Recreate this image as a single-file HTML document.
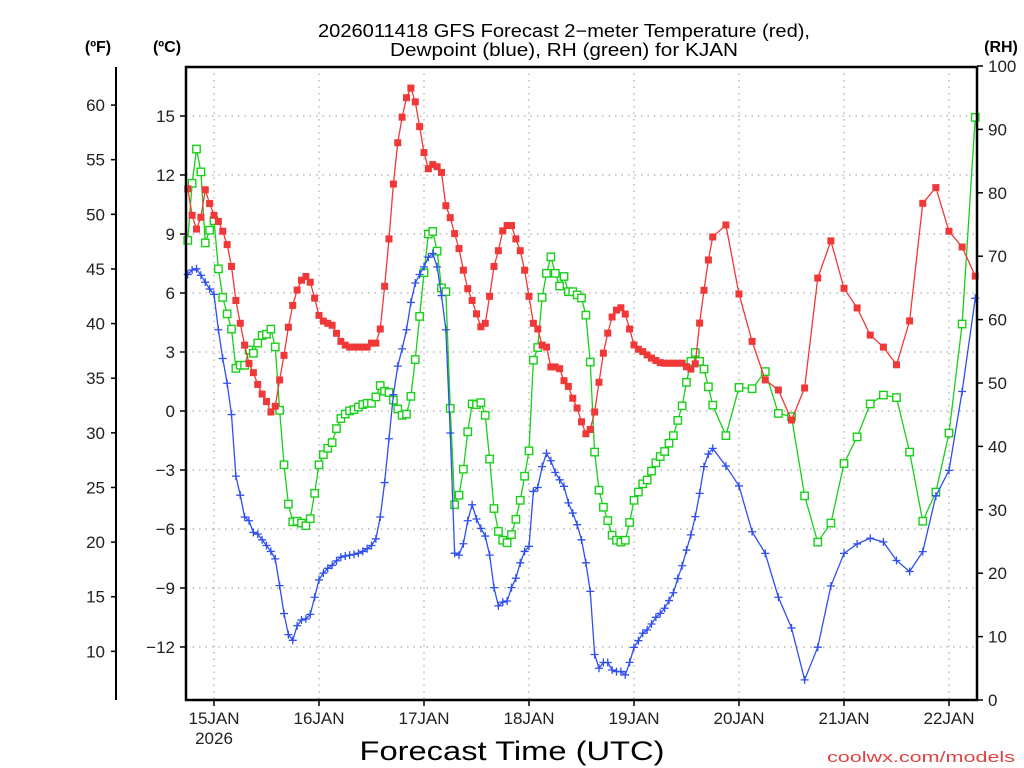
<!DOCTYPE html>
<html><head><meta charset="utf-8"><title>GFS Forecast KJAN</title>
<style>
html,body{margin:0;padding:0;background:#fff;}
svg{display:block;font-family:"Liberation Sans",sans-serif;}
</style></head>
<body>
<svg id="chart" width="1024" height="768" viewBox="0 0 1024 768" xmlns="http://www.w3.org/2000/svg">
  <rect x="0" y="0" width="1024" height="768" fill="#fff"/>
  <g id="grid"></g>
  <g id="series"></g>
  <rect x="186" y="67" width="791" height="633" fill="none" stroke="#000" stroke-width="2.5"/>
  <line x1="116" y1="67" x2="116" y2="700" stroke="#000" stroke-width="2"/>
  <g id="axes" font-size="17" fill="#222"></g>
  <text x="564" y="37" text-anchor="middle" font-size="18" textLength="492" lengthAdjust="spacingAndGlyphs">2026011418 GFS Forecast 2−meter Temperature (red),</text>
  <text x="564" y="56" text-anchor="middle" font-size="18" textLength="348" lengthAdjust="spacingAndGlyphs">Dewpoint (blue), RH (green) for KJAN</text>
  <text x="98" y="52" text-anchor="middle" font-size="16" font-weight="bold">(ºF)</text>
  <text x="167" y="52" text-anchor="middle" font-size="16" font-weight="bold">(ºC)</text>
  <text x="1001" y="52" text-anchor="middle" font-size="16" font-weight="bold">(RH)</text>
  <text x="512" y="760" text-anchor="middle" font-size="27" textLength="305" lengthAdjust="spacingAndGlyphs">Forecast Time (UTC)</text>
  <text x="1015" y="762" text-anchor="end" font-size="15" fill="#e04040" textLength="188" lengthAdjust="spacingAndGlyphs">coolwx.com/models</text>
</svg>
<script>
// forecast hours: hourly 0..120, then every 3 h to 180
const hours = [];
for (let h = 0; h <= 120; h++) hours.push(h);
for (let h = 123; h <= 180; h += 3) hours.push(h);

const tempC = [11.3,9.95,9.25,9.85,11.25,10.55,9.95,9.64,9.14,8.46,7.35,5.62,4.46,3.35,2.42,1.95,1.35,0.86,0.48,-0.05,
0.24,1.58,2.83,4.26,5.37,6.15,6.65,6.84,6.55,5.74,4.86,4.57,4.46,4.36,3.95,3.54,3.35,3.25,3.25,3.25,
3.25,3.25,3.45,3.45,4.17,6.34,8.75,11.54,13.64,14.94,15.93,16.42,15.72,14.46,13.14,12.32,12.53,12.42,12.13,10.44,
9.83,9.02,8.26,7.16,6.22,5.62,4.94,4.28,4.46,5.83,7.35,8.15,9.16,9.43,9.43,8.75,8.15,7.16,5.83,4.46,
4.17,3.35,3.25,2.24,2.24,2.15,1.54,1.25,0.65,0.15,-0.55,-1.16,-0.94,-0.05,1.46,2.94,3.96,4.78,5.13,5.25,
4.93,4.17,3.36,3.14,3.02,2.85,2.69,2.57,2.46,2.43,2.43,2.43,2.43,2.43,2.25,2.13,2.4,4.47,6.14,7.68,
8.85,
9.46,5.95,3.54,1.58,1.07,-0.46,1.17,6.76,8.65,6.24,5.24,3.86,3.25,2.35,4.58,10.56,11.36,9.14,8.34,6.86];

const dewC = [6.94,7.17,7.23,6.9,6.55,6.2,5.93,4.13,2.67,1.41,-0.18,-3.31,-4.28,-5.39,-5.58,-6.17,-6.26,-6.55,-6.84,-7.14,
-7.52,-8.88,-10.3,-11.37,-11.66,-10.92,-10.63,-10.57,-10.34,-9.47,-8.59,-8.24,-8.0,-7.85,-7.62,-7.43,-7.37,-7.33,-7.29,-7.23,
-7.14,-7.0,-6.84,-6.5,-5.39,-3.64,-1.41,0.83,2.28,3.16,4.13,5.52,6.51,6.94,7.33,7.82,8.01,7.33,5.87,4.13,
-1.12,-7.23,-7.33,-6.75,-5.58,-4.77,-5.49,-5.97,-6.36,-7.33,-8.98,-9.91,-9.72,-9.66,-8.98,-8.5,-7.72,-7.14,-6.88,-4.09,
-3.89,-2.83,-2.15,-2.53,-3.12,-3.5,-3.83,-4.67,-5.19,-5.78,-6.55,-7.72,-9.17,-12.38,-13.08,-12.79,-12.79,-13.17,-13.25,-13.25,
-13.42,-12.78,-12.02,-11.68,-11.3,-11.13,-10.83,-10.49,-10.29,-10.03,-9.64,-9.24,-8.52,-7.87,-7.07,-6.3,-5.37,-4.19,-2.83,-2.19,
-1.9,
-2.8,-3.81,-6.14,-7.24,-9.47,-11.03,-13.67,-12.01,-8.9,-7.24,-6.76,-6.47,-6.66,-7.6,-8.16,-7.15,-4.32,-3.02,0.99,5.73];

const rhPct = [72.5,81.5,86.9,83.3,72.1,74.1,75.6,68.0,63.5,60.9,58.5,52.3,52.8,52.8,55.2,54.7,56.3,57.5,57.7,58.5,
55.7,45.7,37.1,30.9,28.1,28.2,27.9,27.5,28.6,32.6,37.1,38.7,39.7,40.6,42.8,44.4,45.1,45.6,45.8,46.2,
46.6,46.8,46.8,47.8,49.6,48.7,48.5,47.3,45.9,44.9,45.1,47.9,53.7,60.5,67.4,73.5,73.9,70.8,65.0,64.4,
46.0,30.8,32.3,36.4,42.3,46.7,46.6,46.9,44.9,38.0,30.2,26.6,25.2,24.8,26.1,28.5,31.5,35.3,39.3,53.6,
55.6,63.5,67.3,69.9,67.3,65.3,66.8,64.4,64.4,63.9,63.4,60.7,53.3,39.1,33.1,30.4,28.3,26.0,25.2,24.9,
25.2,28.0,31.5,32.8,34.1,34.7,36.1,37.4,38.4,39.2,40.5,41.7,44.1,46.4,50.1,53.4,54.8,53.4,52.2,49.4,
46.5,
41.7,49.3,49.1,51.8,45.2,44.7,32.2,24.9,27.9,37.3,41.5,46.7,48.1,47.7,39.1,28.2,32.8,42.1,59.3,91.9];

const fTicks = [60,55,50,45,40,35,30,25,20,15,10];
const cTicks = [15,12,9,6,3,0,-3,-6,-9,-12];
const rhTicks = [100,90,80,70,60,50,40,30,20,10,0];
const dayLabels = ["15JAN","16JAN","17JAN","18JAN","19JAN","20JAN","21JAN","22JAN"];
const dayHours = [6,30,54,78,102,126,150,174];

// axis functions
const PX_PER_HOUR = 105/24;
function xOf(h){ return 187.75 + h*PX_PER_HOUR; }
function yC(c){ return 411 - c*(59/3); }
function yF(f){ return yC((f-32)*5/9); }
function yRH(r){ return 700 - r*6.34; }

const NS = "http://www.w3.org/2000/svg";
function mk(tag, attrs, parent){
  const e = document.createElementNS(NS, tag);
  for (const k in attrs) e.setAttribute(k, attrs[k]);
  parent.appendChild(e);
  return e;
}
const grid = document.getElementById('grid');
const axes = document.getElementById('axes');
const series = document.getElementById('series');

// horizontal grid + C ticks
cTicks.forEach(c => {
  const y = yC(c);
  const g = mk('line', {x1:186, x2:977, y1:y, y2:y, stroke:'#aaa', 'stroke-width':1.2, 'stroke-dasharray':'1.5 5'}, grid);
  
  
  const t = mk('line', {x1:180, x2:186, y1:y, y2:y, stroke:'#000', 'stroke-width':1.5}, axes);
  
  
  const l = mk('text', {x:175, y:y+6, 'text-anchor':'end'}, axes);
  l.textContent = c < 0 ? '−' + Math.abs(c) : String(c);
  
  
});
// F ticks
fTicks.forEach(f => {
  const y = yF(f);
  const t = mk('line', {x1:111, x2:116, y1:y, y2:y, stroke:'#000', 'stroke-width':1.5}, axes);
  
  
  const l = mk('text', {x:105, y:y+6, 'text-anchor':'end'}, axes);
  l.textContent = String(f);
  
  
});
// RH ticks
rhTicks.forEach(r => {
  const y = yRH(r);
  const t = mk('line', {x1:977, x2:983, y1:y, y2:y, stroke:'#000', 'stroke-width':1.5}, axes);
  
  
  const l = mk('text', {x:988, y:y+6, 'text-anchor':'start'}, axes);
  l.textContent = String(r);
  
  
});
// day grid + labels
dayHours.forEach((h, i) => {
  const x = xOf(h);
  const g = mk('line', {x1:x, x2:x, y1:67, y2:700, stroke:'#aaa', 'stroke-width':1.2, 'stroke-dasharray':'1.5 5'}, grid);
  
  
  const t = mk('line', {x1:x, x2:x, y1:700, y2:706, stroke:'#000', 'stroke-width':1.5}, axes);
  
  
  const l = mk('text', {x:x, y:724, 'text-anchor':'middle'}, axes);
  l.textContent = dayLabels[i];
  
  
});
const yr = mk('text', {x:xOf(dayHours[0]), y:744, 'text-anchor':'middle'}, axes);
yr.textContent = '2026';



function drawSeries(vals, yfn, color, kind, name){
  const g = mk('g', {}, series);
  
  
  const pts = vals.map((v, i) => xOf(hours[i]).toFixed(2) + ',' + yfn(v).toFixed(2)).join(' ');
  const pl = mk('polyline', {points:pts, fill:'none', stroke:color, 'stroke-width':1.3}, g);
  
  
  vals.forEach((v, i) => {
    const x = xOf(hours[i]), y = yfn(v);
    let m;
    if (kind === 'fill') {
      m = mk('rect', {x:x-3.5, y:y-3.5, width:7, height:7, fill:color}, g);
    } else if (kind === 'open') {
      m = mk('rect', {x:x-3.7, y:y-3.7, width:7.4, height:7.4, fill:'#fff', stroke:color, 'stroke-width':1.4}, g);
    } else {
      m = mk('path', {d:'M'+(x-4)+' '+y+'H'+(x+4)+'M'+x+' '+(y-4)+'V'+(y+4), stroke:color, 'stroke-width':1.3, fill:'none'}, g);
    }
    
    
  });
}
drawSeries(rhPct, yRH, '#18d018', 'open', 'rh');
drawSeries(dewC, yC, '#2f4ff0', 'plus', 'dewpoint');
drawSeries(tempC, yC, '#f03838', 'fill', 'temperature');
</script>
</body></html>
